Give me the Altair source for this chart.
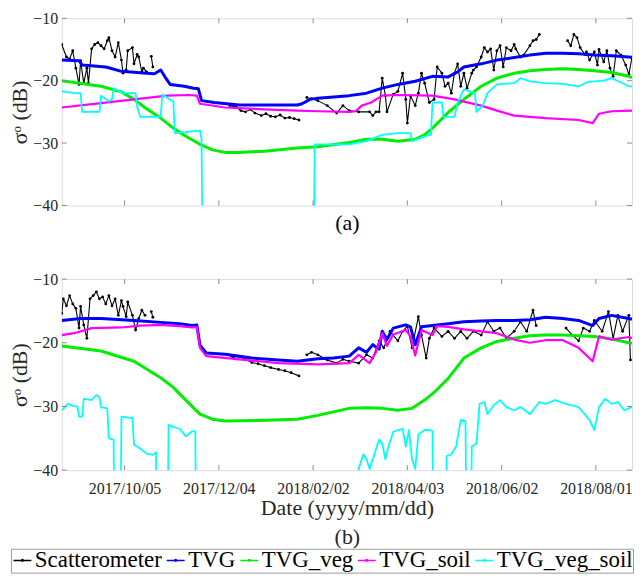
import altair as alt
import pandas as pd

START = "2017-08-26"
END_DAY = 363
FONT = "Liberation Serif"

SERIES = ["Scatterometer", "TVG", "TVG_veg", "TVG_soil", "TVG_veg_soil"]
COLORS = ["#000000", "#0000ff", "#00ee00", "#ff00ff", "#00ffff"]
WIDTHS = [1.1, 3.0, 3.0, 2.2, 1.8]

XTICK_DATES = ["2017-10-05", "2017-12-04", "2018-02-02", "2018-04-03", "2018-06-02", "2018-08-01"]
YTICKS = [-40, -30, -20, -10]

# ---------------- panel (a) ----------------
A_SCAT_DAY = [0, 3, 5, 7, 9, 11, 12, 14, 16, 17, 19, 21, 23, 25, 27, 29, 30, 32, 34, 36, 38, 39, 41, 42, 45, 46, 48, 49, 51, 52, 54,
              None, 57, 58, None,
              107, 111, 114, 117, 120, 123, 127, 130, 133, 136, 139, 142, 145, 148, 151, None,
              156, 159, 163, 169, 175, 179, 183, 189, 196, 198, 200, 202, 204, 206, 207, 211, 214, 217, 219, 220, 222, 225, 227, 229,
              231, 234, 237, 239, 242, 244, 246, 248, 250, 252, 254, 256, 258, 261, 262, 264, 267, 269, 271, 273, 275, 277, 279, 281,
              283, 286, 288, 289, 292, 294, 298, 300, 302, 304, None,
              322, 324, 326, 328, 330, 333, 334, 336, 339, 341, 342, 345, 347, 349, 351, 353, 356, 359, 361, 363]
A_SCAT_VAL = [-14.2, -16.2, -16.5, -15.2, -18.0, -20.6, -16.8, -20.4, -18.0, -20.4, -14.9, -14.2, -13.9, -14.4, -14.9, -13.6,
              -13.1, -15.2, -16.2, -13.9, -16.7, -18.8, -18.3, -15.2, -14.7, -17.3, -15.8, -16.2, -18.6, -18.0, -18.6,
              None, -16.1, -17.8, None,
              -24.0, -24.2, -24.8, -25.0, -24.6, -25.2, -25.6, -25.3, -25.7, -25.8, -25.5, -26.0, -25.9, -26.1, -26.3, None,
              -22.7, -22.9, -23.2, -24.0, -25.2, -24.0, -24.8, -25.0, -25.0, -25.6, -25.0, -25.0, -19.6, -22.4, -25.0,
              -22.2, -21.7, -18.8, -23.0, -26.8, -22.4, -24.0, -22.0, -18.8, -20.4, -23.5, -23.0, -17.8, -18.8, -20.9,
              -20.4, -22.0, -18.8, -17.3, -20.9, -18.8, -21.2, -18.8, -18.3, -17.8, -16.2, -14.7, -15.4, -14.9, -18.3,
              -15.2, -14.4, -17.8, -14.7, -15.2, -14.2, -14.9, -16.2, -15.9, -14.4, -13.6, -13.4, -12.6, None,
              -13.6, -14.4, -12.6, -13.1, -14.7, -15.8, -15.4, -16.7, -15.4, -17.5, -15.0, -17.0, -15.2, -18.0, -19.3,
              -15.2, -15.9, -17.5, -19.0, -16.2]
A_TVG_DAY = [0, 11, 13, 28, 31, 38, 54, 59, 63, 66, 69, 78, 84, 87, 89, 97, 113, 131, 150, 153, 158, 163, 183, 194, 204, 214,
             225, 236, 246, 252, 256, 267, 277, 288, 298, 308, 319, 329, 339, 350, 361, 363]
A_TVG_VAL = [-16.7, -16.8, -17.5, -17.8, -18.0, -18.5, -18.8, -18.9, -18.3, -19.5, -20.6, -20.9, -21.2, -21.3, -23.2, -23.5,
             -23.9, -23.9, -23.9, -23.7, -23.0, -22.8, -22.4, -22.0, -21.2, -20.6, -20.1, -19.3, -19.4, -18.6, -17.8, -17.3,
             -16.7, -16.3, -15.9, -15.6, -15.6, -15.7, -15.9, -16.0, -16.2, -16.3]
A_VEG_DAY = [0, 25, 38, 46, 54, 63, 71, 79, 88, 96, 104, 113, 129, 150, 163, 183, 194, 204, 214, 225, 231, 236, 246, 256, 267,
             277, 288, 298, 308, 319, 329, 339, 350, 361, 363]
A_VEG_VAL = [-20.0, -20.9, -21.8, -23.0, -24.5, -26.0, -27.6, -28.9, -30.2, -31.1, -31.5, -31.5, -31.3, -30.8, -30.6, -29.9,
             -29.4, -29.4, -29.7, -29.4, -28.7, -27.6, -25.1, -23.0, -20.9, -19.6, -18.8, -18.4, -18.2, -18.1, -18.2, -18.4,
             -18.7, -19.3, -19.5]
A_SOIL_DAY = [0, 25, 46, 67, 81, 86, 88, 104, 129, 150, 163, 183, 187, 191, 197, 204, 214, 236, 250, 267, 277, 288, 308, 329,
              338, 342, 350, 363]
A_SOIL_VAL = [-24.3, -23.6, -23.0, -22.4, -22.3, -22.4, -23.7, -24.3, -24.6, -24.8, -24.9, -25.0, -24.9, -24.0, -23.5, -22.4,
              -22.3, -22.4, -23.0, -24.0, -24.8, -25.6, -26.0, -26.3, -26.8, -25.3, -24.9, -24.8]
A_VS_DAY = [0, 9, 12, 13, 24, 25, 30, 32, 33, 39, 47, 48, 50, 63, 64, 70, 71, 72, 80, 88, 89, 90, 160, 161, 183, 194, 204, 214,
            222, 223, 234, 235, 236, 242, 243, 250, 252, 256, 263, 264, 268, 271, 277, 288, 292, 298, 308, 319, 329, 335, 345,
            350, 356, 361, 363]
A_VS_VAL = [-21.7, -22.0, -22.0, -25.0, -25.0, -22.4, -23.3, -23.0, -21.2, -22.0, -22.0, -24.2, -25.8, -25.8, -22.2, -23.2,
            -23.2, -28.4, -28.2, -28.0, -29.4, -60, -60, -30.2, -30.2, -29.7, -28.7, -28.4, -28.4, -29.7, -28.7, -28.7, -23.5,
            -23.5, -25.8, -25.8, -23.5, -21.4, -22.0, -25.0, -24.0, -22.0, -20.6, -20.4, -19.6, -20.1, -20.4, -20.5, -20.9,
            -20.2, -20.0, -19.6, -20.3, -20.9, -20.9]

# ---------------- panel (b) ----------------
B_SCAT_DAY = [0, 1, 3, 5, 7, 9, 11, 12, 14, 16, 18, 20, 22, 24, 26, 28, 30, 32, 34, 36, 38, 39, 41, 42, 45, 47, 49, 51, 53,
              None, 57, 58, None,
              106, 109, 112, 117, 121, 125, 129, 133, 138, 142, 146, 151, None,
              156, 159, 163, 169, 175, 179, 183, 189, 194, 198, 202, 205, 209, 214, 217, 220, 223, 227, 229, 232, 234, 237,
              242, 246, 250, 254, 258, 262, 267, 271, 275, 279, 283, 288, 292, 296, 300, 302, None,
              321, 325, 329, 332, 336, 339, 344, 348, 351, 354, 357, 361, 362]
B_SCAT_VAL = [-15.4, -13.1, -14.2, -12.6, -13.9, -14.6, -17.7, -14.3, -17.2, -19.3, -13.1, -12.6, -12.0, -13.1, -12.8, -13.9,
              -12.6, -14.2, -13.1, -15.7, -13.4, -14.3, -15.9, -13.6, -15.7, -18.0, -16.2, -14.9, -15.7,
              None, -15.1, -16.0, None,
              -21.9, -22.3, -22.1, -22.6, -23.1, -23.3, -23.6, -23.9, -24.2, -24.4, -24.7, -25.2, None,
              -21.9, -21.5, -21.9, -22.7, -23.2, -22.6, -22.9, -23.2, -21.9, -22.4, -19.7, -20.8, -18.2, -19.7, -18.2,
              -17.4, -20.8, -15.9, -18.8, -22.4, -19.3, -17.7, -19.0, -18.2, -19.3, -18.2, -19.3, -18.2, -18.8, -16.7,
              -18.2, -17.7, -19.3, -18.2, -16.7, -18.2, -14.9, -17.3, None,
              -17.7, -18.8, -19.7, -17.7, -18.2, -16.5, -18.2, -15.1, -19.3, -15.7, -18.2, -15.7, -22.7]
B_TVG_DAY = [0, 12, 25, 46, 63, 75, 83, 86, 88, 92, 104, 121, 138, 150, 163, 173, 183, 189, 194, 198, 202, 204, 207, 211, 219,
             222, 225, 229, 236, 246, 256, 267, 277, 288, 298, 308, 319, 329, 338, 342, 350, 361, 363]
B_TVG_VAL = [-16.5, -16.2, -16.2, -16.5, -16.8, -17.0, -17.3, -17.2, -20.4, -21.6, -21.8, -22.4, -22.7, -22.9, -22.5, -22.4,
             -22.1, -20.8, -21.5, -20.3, -21.0, -18.2, -19.5, -17.7, -17.2, -17.5, -20.3, -17.5, -17.3, -17.0, -16.7, -16.6,
             -16.5, -16.5, -16.4, -16.0, -16.2, -16.5, -17.3, -16.2, -15.7, -16.2, -16.3]
B_VEG_DAY = [0, 25, 46, 63, 71, 79, 88, 96, 104, 125, 150, 163, 183, 194, 204, 214, 223, 231, 237, 246, 256, 267, 277, 288,
             298, 308, 319, 329, 339, 350, 361, 363]
B_VEG_VAL = [-20.5, -21.3, -22.9, -25.5, -27.0, -29.0, -31.2, -32.0, -32.3, -32.2, -32.0, -31.4, -30.3, -30.2, -30.3, -30.6,
             -30.3, -29.0, -27.8, -25.6, -22.4, -20.8, -19.8, -19.3, -18.9, -18.8, -18.8, -18.9, -19.0, -19.4, -20.0, -20.1]
B_SOIL_DAY = [0, 8, 19, 38, 50, 63, 75, 83, 86, 88, 92, 113, 138, 163, 183, 189, 196, 200, 204, 207, 211, 219, 222, 225, 229,
              236, 239, 246, 256, 267, 277, 288, 298, 308, 319, 329, 338, 342, 350, 361, 363]
B_SOIL_VAL = [-18.8, -18.5, -17.7, -17.6, -17.3, -17.2, -17.4, -17.6, -17.5, -20.8, -22.1, -22.6, -23.2, -23.4, -23.2, -21.9,
              -23.2, -21.5, -18.5, -20.5, -18.7, -18.0, -19.0, -22.0, -18.0, -18.8, -17.4, -17.5, -17.9, -18.2, -18.5, -19.5,
              -20.0, -19.6, -19.6, -20.8, -22.9, -19.0, -19.5, -19.1, -19.3]
B_VS_DAY = [0, 4, 8, 10, 11, 13, 14, 19, 22, 24, 25, 29, 30, 33, 34, 37, 38, 44, 45, 46, 50, 54, 58, 60, 61, 67, 68, 71, 75,
            79, 83, 85, 86, 188, 189, 192, 194, 196, 198, 202, 204, 206, 208, 211, 214, 217, 219, 221, 223, 225, 227, 231,
            234, 236, 237, 244, 245, 248, 251, 254, 257, 258, 260, 261, 264, 266, 269, 271, 275, 279, 283, 288, 292, 298,
            304, 308, 314, 321, 329, 336, 339, 342, 346, 350, 354, 358, 363]
B_VS_VAL = [-30.6, -29.6, -30.0, -30.0, -31.6, -31.6, -28.8, -29.0, -28.2, -28.5, -30.1, -30.3, -35.0, -35.2, -60, -60,
            -31.6, -31.8, -31.8, -36.0, -36.6, -37.4, -37.6, -37.2, -60, -60, -32.9, -33.2, -33.5, -34.7, -33.9, -33.9,
            -60, -60, -39.8, -37.5, -38.3, -39.8, -38.3, -35.2, -35.8, -38.3, -36.3, -34.0, -33.7, -33.5, -36.3, -33.7,
            -38.3, -39.8, -34.4, -33.7, -33.7, -33.9, -60, -60, -37.8, -37.5, -36.3, -32.1, -32.3, -60, -60, -36.3, -35.8,
            -29.6, -29.3, -31.2, -29.8, -29.0, -30.1, -30.6, -30.1, -31.2, -29.3, -29.6, -29.0, -29.6, -30.1, -32.1,
            -33.7, -30.1, -28.8, -29.6, -29.3, -30.6, -30.1]

W, HA, HB = 573, 188, 192
TICKC = "#8c8c8c"
LABC = "#262626"
start = pd.Timestamp(START)


def build(series_lists):
    rows = []
    for name, days, vals in series_lists:
        seg = 0
        for d, v in zip(days, vals):
            if d is None or v is None:
                seg += 1
                continue
            rows.append({"date": start + pd.Timedelta(days=d), "value": v,
                         "series": name, "key": f"{name}_{seg}"})
    return pd.DataFrame(rows)


dfA = build([("Scatterometer", A_SCAT_DAY, A_SCAT_VAL), ("TVG", A_TVG_DAY, A_TVG_VAL),
             ("TVG_veg", A_VEG_DAY, A_VEG_VAL), ("TVG_soil", A_SOIL_DAY, A_SOIL_VAL),
             ("TVG_veg_soil", A_VS_DAY, A_VS_VAL)])
dfB = build([("Scatterometer", B_SCAT_DAY, B_SCAT_VAL), ("TVG", B_TVG_DAY, B_TVG_VAL),
             ("TVG_veg", B_VEG_DAY, B_VEG_VAL), ("TVG_soil", B_SOIL_DAY, B_SOIL_VAL),
             ("TVG_veg_soil", B_VS_DAY, B_VS_VAL)])

end = start + pd.Timedelta(days=END_DAY)


def dt(ts):
    ts = pd.Timestamp(ts)
    return alt.DateTime(year=ts.year, month=ts.month, date=ts.day)


xdomain = [dt(start), dt(end)]
xtick_dt = [dt(t) for t in XTICK_DATES]
tick_df = pd.DataFrame({"date": pd.to_datetime(XTICK_DATES)})
ytick_df = pd.DataFrame({"value": YTICKS})

# line-with-dot legend symbol (unit coordinates)
SYMBOL = "M-1,0H1M-0.1,0A0.1,0.1 0 1,0 0.1,0A0.1,0.1 0 1,0 -0.1,0"

legend = alt.Legend(title=None, orient="none", legendX=-51, legendY=533, direction="horizontal",
                    symbolType=SYMBOL, symbolStrokeWidth=1.5, symbolSize=324,
                    labelFont=FONT, labelFontSize=23, labelColor="black", labelOffset=1,
                    strokeColor="#9a9a9a", fillColor="white", padding=0, columnPadding=1)


def panel(df, xaxis, H):
    X = alt.X("date:T", scale=alt.Scale(domain=xdomain), axis=xaxis)
    Y = alt.Y("value:Q", scale=alt.Scale(domain=[-40, -10], nice=False, zero=False),
              axis=alt.Axis(values=YTICKS, title="σᵒ (dB)", ticks=False, domain=False, grid=False,
                            labelPadding=4, labelFont=FONT, labelFontSize=16, labelColor=LABC,
                            titleFont=FONT, titleFontSize=22, titleFontWeight="normal",
                            titleColor=LABC, titlePadding=1))
    C = alt.Color("series:N", scale=alt.Scale(domain=SERIES, range=COLORS), legend=legend)
    layers = []
    for name, w in zip(SERIES, WIDTHS):
        layers.append(alt.Chart(df).transform_filter(alt.datum.series == name).mark_line(
            clip=True, strokeJoin="round", strokeWidth=w).encode(x=X, y=Y, color=C, detail="key:N"))
    dots = alt.Chart(df).transform_filter(alt.datum.series == "Scatterometer").mark_circle(
        size=8, color="black", opacity=1, clip=True).encode(x=X, y=Y)
    xt_bot = alt.Chart(tick_df).mark_rule(color=TICKC).encode(x=X, y=alt.value(H), y2=alt.value(H - 5))
    xt_top = alt.Chart(tick_df).mark_rule(color=TICKC).encode(x=X, y=alt.value(0), y2=alt.value(5))
    yt_l = alt.Chart(ytick_df).mark_rule(color=TICKC).encode(y=Y, x=alt.value(0), x2=alt.value(5))
    yt_r = alt.Chart(ytick_df).mark_rule(color=TICKC).encode(y=Y, x=alt.value(W - 5), x2=alt.value(W))
    return alt.layer(layers[0], dots, *layers[1:], xt_bot, xt_top, yt_l, yt_r).properties(width=W, height=H)


axA = alt.Axis(values=xtick_dt, labels=False, ticks=False, domain=False, grid=False, title="(a)",
               titleFont=FONT, titleFontSize=22, titleFontWeight="normal", titleColor="black", titlePadding=7)
axB = alt.Axis(values=xtick_dt, format="%Y/%m/%d", ticks=False, domain=False, grid=False,
               labelFont=FONT, labelFontSize=16, labelColor=LABC, labelPadding=10,
               title=["Date (yyyy/mm/dd)", "(b)"], titleFont=FONT, titleFontSize=22,
               titleFontWeight="normal", titleColor=LABC, titleLineHeight=29, titlePadding=2)

chart = alt.vconcat(panel(dfA, axA, HA), panel(dfB, axB, HB), spacing=36).properties(
    padding={"left": 0, "top": 0, "right": 0, "bottom": 0}
).configure_view(stroke="#9a9a9a", strokeWidth=1).configure(background="white")

chart.save("out.html", embed_options={"renderer": "svg", "actions": False})
